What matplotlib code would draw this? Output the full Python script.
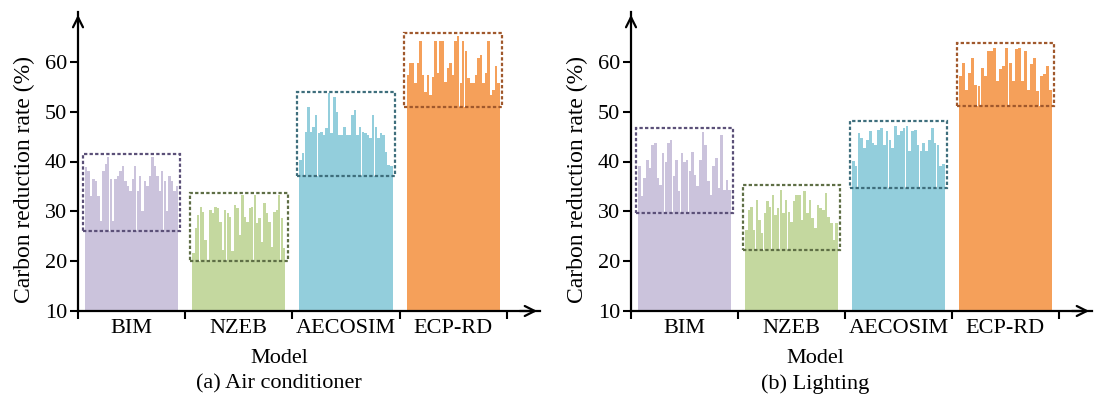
import matplotlib.pyplot as plt
import numpy as np
from matplotlib.patches import Rectangle

plt.rcParams['font.family'] = ['Liberation Serif', 'DejaVu Serif']

models = ["BIM", "NZEB", "AECOSIM", "ECP-RD"]
bar_colors = ["#cbc3dc", "#c4d89f", "#93cedc", "#f5a05a"]
box_colors = ["#5b5078", "#5e6e45", "#3e6e7c", "#a0582c"]

# (a) Air conditioner
ac_bim = [38.8, 38, 33, 36.5, 36, 33, 28, 38, 39.5, 41, 36.5, 28, 36.5, 37, 38, 39, 36,
          35, 34, 36.5, 39, 34, 37, 30, 36, 35, 37, 41, 39, 37, 34, 38, 36, 30, 37, 36, 34, 35]
ac_nzeb = [21.6, 26.6, 29.3, 30.9, 29.9, 24.3, 20.2, 30.3, 29.6, 30.9, 30.6, 27.9, 22.2,
           30.3, 29.6, 28.9, 22, 31.3, 30.6, 25.3, 33.3, 28.9, 27.9, 30.6, 30.9, 33.3, 27.6,
           28.6, 23.9, 31.6, 29.6, 27.9, 22.9, 29.9, 30.3, 33.3, 28.6, 22.6]
ac_aec = [40.3, 41.7, 46, 51, 46, 47, 49.4, 45.7, 46, 45.3, 46.7, 53.7, 45.7, 53, 50, 45.3,
          45.3, 47, 45.3, 45.3, 49.4, 50.4, 45.3, 47, 46, 45.7, 45.3, 44.7, 49.4, 47, 44.7,
          45.7, 45.3, 42, 39.3, 39]
ac_ecp = [57.4, 59.7, 59.7, 55.7, 59.7, 64.1, 57.4, 54, 57.4, 53.4, 57, 64.1, 57.7, 64.1,
          64.1, 56, 58.7, 59.7, 57.4, 64.1, 65.1, 55.7, 64.1, 62.1, 56.7, 55.7, 55.7, 57.4,
          60.7, 61.4, 55.7, 57.7, 64.1, 53.4, 54.4, 59.1, 55.7]
ac_box_low = [26, 20, 37, 51]
ac_box_high = [41.5, 33.7, 54, 65.7]

# (b) Lighting
li_bim = [39, 33, 36.6, 40.3, 38.6, 43.3, 43.7, 36.6, 35.3, 41.7, 40, 43.7, 44.3, 37, 40.3,
          34, 41.7, 40, 40.3, 38, 42, 37.3, 35, 40.3, 46, 43.3, 36, 33.3, 39, 40.7, 34.6,
          45.3, 34.3, 36.3, 34.3]
li_nzeb = [26.3, 30.3, 30.9, 26.3, 32.3, 28.3, 25.6, 29.6, 32, 30.9, 33.3, 29.3, 30.6, 34.3,
           29.6, 32.3, 29.9, 27.9, 32, 33.3, 33.3, 28.3, 34, 29.6, 32.3, 28.6, 26.6, 31.3,
           30.6, 30.3, 33.6, 28.9, 27.6, 24.3, 27.6]
li_aec = [40.1, 39, 45.7, 44.7, 42.7, 44.4, 46.1, 43.7, 43.4, 46.4, 46.7, 43.4, 46.1, 44.4,
          42.7, 47.1, 45.4, 46.1, 46.7, 47.1, 42.1, 46.1, 46.4, 43.4, 42.1, 43.7, 42.1, 44.4,
          46.7, 43.7, 43.4, 39, 39.4]
li_ecp = [57.1, 59.8, 54.4, 57.8, 60.8, 55.4, 55.1, 58.8, 57.1, 62.1, 62.1, 62.8, 56.1, 58.5,
          59.1, 62.8, 59.8, 56.1, 62.5, 62.8, 56.1, 62.1, 54.4, 59.5, 60.8, 54.1, 57.1, 57.5,
          59.1, 54.4]
li_box_low = [29.6, 22.2, 34.6, 51.2]
li_box_high = [46.8, 35.2, 48.2, 63.8]

yticks = [10, 20, 30, 40, 50, 60]

fig = plt.figure(figsize=(10.96, 4.08), dpi=100)
ax1 = fig.add_axes([78/1096, 97/408, 462/1096, 299/408])
ax2 = fig.add_axes([631/1096, 97/408, 461/1096, 299/408])

GW = 0.87  # group width inside a slot


def panel(ax, series, lows, highs, title, tx):
    for i, vals in enumerate(series):
        vals = np.array(vals)
        n = len(vals)
        step = GW / n
        left = i + (1 - GW) / 2
        xs = left + step * (np.arange(n) + 0.5)
        # solid base of the group
        ax.bar(i + 0.5, lows[i] - 10, bottom=10, width=GW, color=bar_colors[i], linewidth=0)
        ax.bar(xs, vals - 10, bottom=10, width=step * 0.96, color=bar_colors[i], linewidth=0)
        pad = 0.02
        ax.add_patch(Rectangle((left - pad, lows[i]), GW + 2 * pad, highs[i] - lows[i],
                               fill=False, edgecolor=box_colors[i], linewidth=1.6,
                               linestyle=(0, (1.5, 1)), zorder=3))
    ax.set_xlim(0, 4.31)
    ax.set_ylim(10, 70)
    ax.set_yticks(yticks)
    ax.set_xticks([0, 1, 2, 3, 4])
    ax.set_xticklabels([])
    ax.set_xticks([0.5, 1.5, 2.5, 3.5], models, minor=True)
    ax.tick_params(axis='x', which='minor', length=0, labelsize=16, pad=6)
    ax.tick_params(axis='both', which='major', length=6, width=1.5, labelsize=16)
    ax.tick_params(axis='y', pad=2)
    ax.spines['top'].set_visible(False)
    ax.spines['right'].set_visible(False)
    ax.spines['left'].set_linewidth(1.6)
    ax.spines['bottom'].set_linewidth(1.6)
    ax.set_ylabel("Carbon reduction rate (%)", fontsize=17)
    ax.yaxis.set_label_coords(-0.094, 0.44)
    ax.set_xlabel("Model", fontsize=16)
    ax.xaxis.set_label_coords(tx, -0.127)
    ax.text(tx, -0.243, title, transform=ax.transAxes, ha='center', va='center', fontsize=16)
    ax.annotate('', xy=(1.0, 0), xytext=(0.95, 0), xycoords='axes fraction',
                arrowprops=dict(arrowstyle='->', lw=1.6, color='black', mutation_scale=18))
    ax.annotate('', xy=(0, 1.0), xytext=(0, 0.95), xycoords='axes fraction',
                arrowprops=dict(arrowstyle='->', lw=1.6, color='black', mutation_scale=18))


panel(ax1, [ac_bim, ac_nzeb, ac_aec, ac_ecp], ac_box_low, ac_box_high,
      "(a) Air conditioner", 0.435)
panel(ax2, [li_bim, li_nzeb, li_aec, li_ecp], li_box_low, li_box_high,
      "(b) Lighting", 0.4)

plt.savefig("out.png", dpi=100)
